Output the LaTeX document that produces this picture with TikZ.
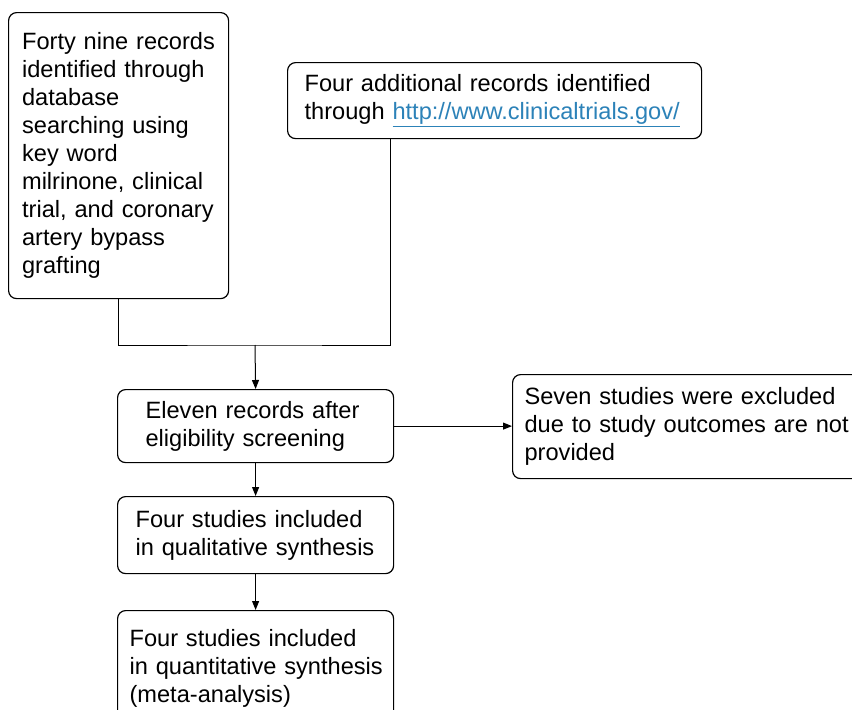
\documentclass[tikz,border=0pt]{standalone}
\usepackage{fontspec}
\setmainfont{Liberation Sans}
\usetikzlibrary{arrows.meta}
\definecolor{linkblue}{RGB}{44,130,184}

\tikzset{
  recbox/.style={draw,rounded corners=8pt,anchor=north west,align=left,
    line width=1.2pt,font=\fontsize{23.6}{28}\selectfont},
  arr/.style={-{Triangle[length=9pt,width=7pt]},line width=1pt}
}

\begin{document}
\begin{tikzpicture}[x=1pt,y=-1pt]
  \clip (0,0) rectangle (852,710);

  \node[recbox,inner xsep=13.5pt,text width=193pt,minimum height=286pt] (search) at (8,12)
    {Forty nine records\\ identified through\\ database\\ searching using\\ key word\\
     milrinone, clinical\\ trial, and coronary\\ artery bypass\\ grafting};
  \node[recbox,inner xsep=17pt,text width=380pt,minimum height=76pt] (extra) at (287,62)
    {Four additional records identified\\ through \textcolor{linkblue}{\underline{http://www.clinicaltrials.gov/}}};
  \node[recbox,inner xsep=28pt,text width=220pt,minimum height=73pt] (elig) at (117,389)
    {Eleven records after\\ eligibility screening};
  \node[recbox,inner xsep=12pt,text width=340pt,minimum height=104pt] (excl) at (512,374)
    {Seven studies were excluded\\ due to study outcomes are not\\ provided};
  \node[recbox,inner xsep=18pt,text width=240pt,minimum height=77pt] (qual) at (117,496)
    {Four studies included\\ in qualitative synthesis};
  \node[recbox,inner xsep=12pt,text width=252pt,minimum height=116pt] (quant) at (117,610)
    {Four studies included\\ \mbox{in quantitative synthesis}\\ (meta-analysis)};

  \coordinate (merge) at (255,345);
  \coordinate (extrafoot) at (390,138);
  \draw[line width=1pt] (search.south) |- (merge) -| (extrafoot);
  \draw[arr] (merge) -- (elig.north);
  \draw[arr] (elig.east) -- (elig.east -| excl.west);
  \draw[arr] (elig.south) -- (qual.north);
  \draw[arr] (qual.south) -- (quant.north);
\end{tikzpicture}
\end{document}
